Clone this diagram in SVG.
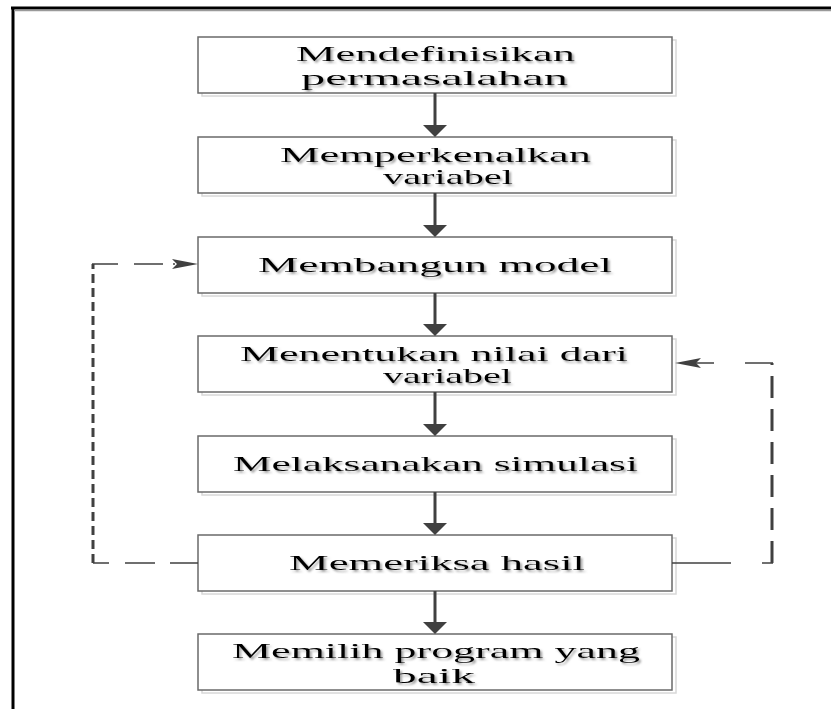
<svg xmlns="http://www.w3.org/2000/svg" width="831" height="709" viewBox="0 0 831 709">
  <defs>
    <filter id="txtShadow" x="-5%" y="-30%" width="110%" height="160%">
      <feDropShadow dx="2" dy="2" stdDeviation="1" flood-color="#808080" flood-opacity="0.7"/>
    </filter>
  </defs>
  <style>
    .frame { stroke: #000; stroke-width: 3; fill: none; }
    .box { fill: #fff; stroke: #6a6a6a; stroke-width: 1.5; }
    .boxShade { fill: none; stroke: #d8d8d8; stroke-width: 1.5; }
    .lbl { font-family: "Liberation Serif", "Times New Roman", serif; font-size: 22px; fill: #000; filter: url(#txtShadow); }
    .flow { stroke: #404040; stroke-width: 3; fill: none; }
    .head { fill: #404040; }
    .thin { stroke: #404040; stroke-width: 1.5; fill: none; }
    .thick { stroke: #404040; stroke-width: 3; fill: none; }
  </style>

  <rect width="831" height="709" fill="#fff"/>

  <!-- outer frame (top and left edges) -->
  <line class="frame" x1="11" y1="8" x2="831" y2="8"/>
  <line class="frame" x1="13" y1="7" x2="13" y2="709"/>
  <line x1="14" y1="10.5" x2="831" y2="10.5" stroke="#9a9a9a" stroke-width="1.5"/>

  <g id="n1">
    <rect class="boxShade" x="202" y="40" width="474" height="56"/>
    <rect class="box" x="198" y="37" width="474" height="56"/>
    <text class="lbl" x="296" y="61" textLength="279" lengthAdjust="spacingAndGlyphs">Mendefinisikan</text>
    <text class="lbl" x="301" y="85" textLength="267" lengthAdjust="spacingAndGlyphs">permasalahan</text>
  </g>

  <g id="n2">
    <rect class="boxShade" x="202" y="140" width="474" height="56"/>
    <rect class="box" x="198" y="137" width="474" height="56"/>
    <text class="lbl" x="280" y="162" textLength="311" lengthAdjust="spacingAndGlyphs">Memperkenalkan</text>
    <text class="lbl" x="383" y="184" textLength="130" lengthAdjust="spacingAndGlyphs">variabel</text>
  </g>

  <g id="n3">
    <rect class="boxShade" x="202" y="240" width="474" height="56"/>
    <rect class="box" x="198" y="237" width="474" height="56"/>
    <text class="lbl" x="258" y="272" textLength="354" lengthAdjust="spacingAndGlyphs">Membangun model</text>
  </g>

  <g id="n4">
    <rect class="boxShade" x="202" y="339" width="474" height="56"/>
    <rect class="box" x="198" y="336" width="474" height="56"/>
    <text class="lbl" x="240" y="361" textLength="388" lengthAdjust="spacingAndGlyphs">Menentukan nilai dari</text>
    <text class="lbl" x="383" y="383" textLength="129" lengthAdjust="spacingAndGlyphs">variabel</text>
  </g>

  <g id="n5">
    <rect class="boxShade" x="202" y="439" width="474" height="56"/>
    <rect class="box" x="198" y="436" width="474" height="56"/>
    <text class="lbl" x="233" y="471" textLength="405" lengthAdjust="spacingAndGlyphs">Melaksanakan simulasi</text>
  </g>

  <g id="n6">
    <rect class="boxShade" x="202" y="538" width="474" height="56"/>
    <rect class="box" x="198" y="535" width="474" height="56"/>
    <text class="lbl" x="289" y="570" textLength="296" lengthAdjust="spacingAndGlyphs">Memeriksa hasil</text>
  </g>

  <g id="n7">
    <rect class="boxShade" x="202" y="637" width="474" height="56"/>
    <rect class="box" x="198" y="634" width="474" height="56"/>
    <text class="lbl" x="232" y="658" textLength="408" lengthAdjust="spacingAndGlyphs">Memilih program yang</text>
    <text class="lbl" x="393" y="683" textLength="82" lengthAdjust="spacingAndGlyphs">baik</text>
  </g>

  <g id="connectors">
    <!-- main downward flow -->
    <line class="flow" x1="435" y1="93" x2="435" y2="126"/>
    <polygon class="head" points="423,125 447,125 435,137"/>
    <line class="flow" x1="435" y1="193" x2="435" y2="226"/>
    <polygon class="head" points="423,225 447,225 435,237"/>
    <line class="flow" x1="435" y1="293" x2="435" y2="325"/>
    <polygon class="head" points="423,324 447,324 435,336"/>
    <line class="flow" x1="435" y1="392" x2="435" y2="425"/>
    <polygon class="head" points="423,424 447,424 435,436"/>
    <line class="flow" x1="435" y1="492" x2="435" y2="524"/>
    <polygon class="head" points="423,523 447,523 435,535"/>
    <line class="flow" x1="435" y1="591" x2="435" y2="623"/>
    <polygon class="head" points="423,622 447,622 435,634"/>

    <!-- feedback loop back to "Membangun model" -->
    <line class="thin" x1="198" y1="563" x2="93" y2="563" stroke-dasharray="28 15 30 16 20"/>
    <line class="thick" x1="93" y1="563" x2="93" y2="264" stroke-dasharray="9 5"/>
    <line class="thin" x1="92" y1="264" x2="175" y2="264" stroke-dasharray="26 16 29 10"/>
    <polygon class="head" points="198,264 172,259 177,264 172,269"/>

    <!-- feedback loop back to "Menentukan nilai dari variabel" -->
    <line class="thin" x1="672" y1="563" x2="731" y2="563"/>
    <line class="thin" x1="762" y1="563" x2="773" y2="563"/>
    <line class="thick" x1="772" y1="563" x2="772" y2="363" stroke-dasharray="22 11"/>
    <line class="thin" x1="773" y1="363" x2="745" y2="363"/>
    <line class="thin" x1="714" y1="363" x2="696" y2="363"/>
    <polygon class="head" points="675,363 701,358 696,363 701,368"/>
  </g>
</svg>
